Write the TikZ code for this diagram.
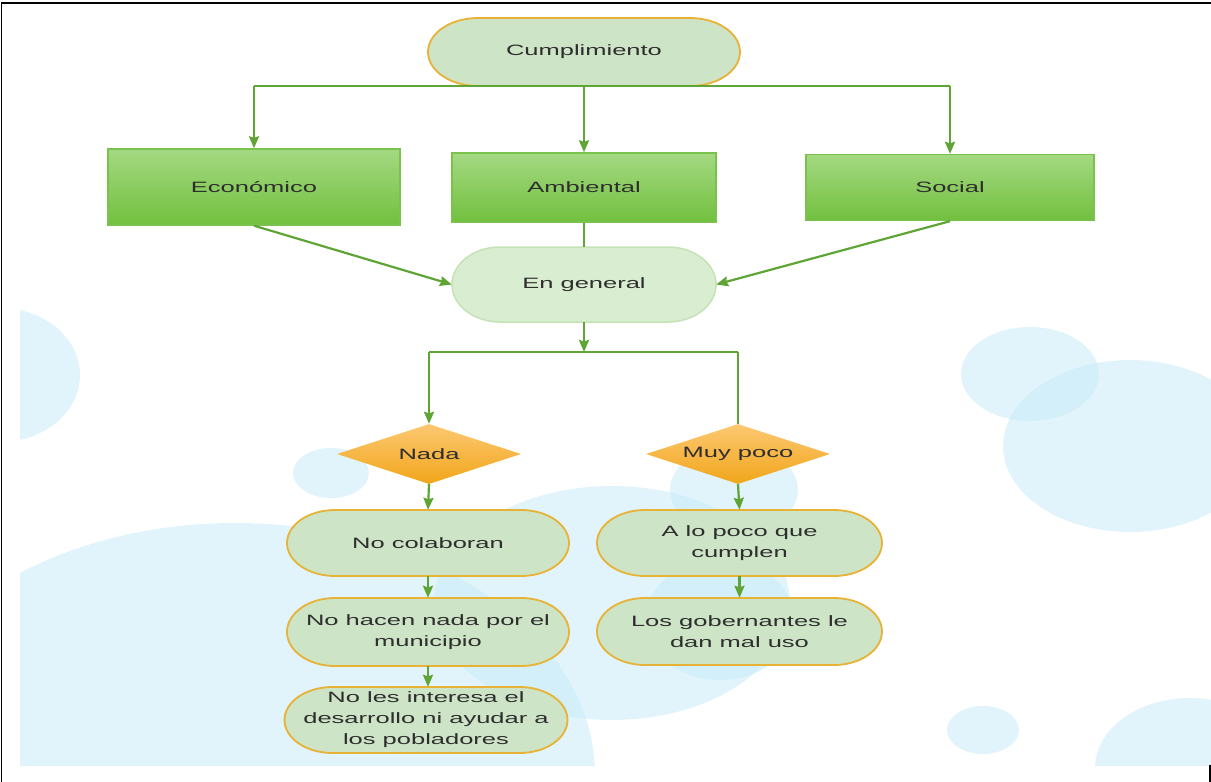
\documentclass[tikz,border=0pt]{standalone}
\usepackage{fontspec}
\setmainfont{Liberation Sans}[FakeStretch=1.7]
\usetikzlibrary{arrows.meta,shapes.geometric}
\definecolor{lnk}{HTML}{5FA535}
\definecolor{txtc}{HTML}{2E2E2E}
\definecolor{bub}{HTML}{C4EAF8}
\definecolor{gtop}{HTML}{A4D982}
\definecolor{gbot}{HTML}{72C03E}
\definecolor{gbord}{HTML}{79C24E}
\definecolor{otop}{HTML}{FDC873}
\definecolor{obot}{HTML}{F1A61A}
\definecolor{stfill}{HTML}{CDE5C6}
\definecolor{stbord}{HTML}{E7B235}
\definecolor{genfill}{HTML}{D9EDD0}
\definecolor{genbord}{HTML}{C4E3B4}
% stadium with elliptical ends: cx, cy, w, h, rx, style
\newcommand\stadpath[6]{%
  \path[#6] ({#1-#3/2+#5},{#2-#4/2}) -- ({#1+#3/2-#5},{#2-#4/2})
    arc[start angle=-90, end angle=90, x radius=#5, y radius=#4/2]
    -- ({#1-#3/2+#5},{#2+#4/2})
    arc[start angle=90, end angle=270, x radius=#5, y radius=#4/2] -- cycle;}
\begin{document}
\begin{tikzpicture}[x=1pt,y=-1pt,
  txt/.style={font=\fontsize{15}{21}\selectfont, text=txtc, align=center, inner sep=0pt},
  conn/.style={draw=lnk, line width=2.2pt},
  arr/.style={conn, -{Stealth[length=12pt,width=10pt,inset=1.5pt]}},
  bubble/.style={fill=bub, fill opacity=0.5},
  gbox/.style={txt, rectangle, draw=gbord, line width=1.4pt, top color=gtop, bottom color=gbot},
  dia/.style={txt, diamond, aspect=3.07, minimum width=184pt, minimum height=60pt, top color=otop, bottom color=obot},
  stadA/.style={fill=stfill, draw=stbord, line width=1.8pt},
  stadB/.style={fill=genfill, draw=genbord, line width=1.5pt},
  frame/.style={draw=black, line width=1.5pt}]
\useasboundingbox (0,0) rectangle (1211,782);
% background bubbles
\begin{scope}
  \clip (20,0) rectangle (1211,765);
  \fill[bubble] (0,375) ellipse [x radius=80, y radius=67];
  \fill[bubble] (235,775) ellipse [x radius=360, y radius=252];
  \fill[bubble] (612,603) ellipse [x radius=178, y radius=117];
  \fill[bubble] (331,473) ellipse [x radius=38, y radius=25];
  \fill[bubble] (734,490) ellipse [x radius=64, y radius=45];
  \fill[bubble] (720,620) ellipse [x radius=75, y radius=60];
  \fill[bubble] (1030,374) ellipse [x radius=69, y radius=47];
  \fill[bubble] (1130,446) ellipse [x radius=127, y radius=86];
  \fill[bubble] (983,730) ellipse [x radius=36, y radius=24];
  \fill[bubble] (1190,768) ellipse [x radius=95, y radius=70];
\end{scope}
% frame
\draw[frame] (1.5,782) -- (1.5,3) -- (1211,3);
\draw[frame] (1210,765) -- (1210,782);
% shapes
\stadpath{584}{52}{312}{68}{50}{stadA}
\node[txt, minimum width=312pt, minimum height=68pt] (cump) at (584,52) {Cumplimiento};
\node[gbox, minimum width=292pt, minimum height=76pt] (eco) at (254,187) {Económico};
\node[gbox, minimum width=264pt, minimum height=69pt] (amb) at (584,187.5) {Ambiental};
\node[gbox, minimum width=288pt, minimum height=66pt] (soc) at (950,187.5) {Social};
\stadpath{584}{284.5}{264}{75}{48}{stadB}
\node[txt, minimum width=264pt, minimum height=75pt] (gen) at (584,284.5) {En general};
\coordinate (split) at (584,352);
\node[dia] (nada) at (429,454) {Nada};
\node[dia] (muy) at (738,454) {Muy poco};
\stadpath{428}{543}{282}{66}{48}{stadA}
\node[txt, minimum width=282pt, minimum height=66pt] (c1) at (428,543) {No colaboran};
\stadpath{428}{632}{282}{68}{48}{stadA}
\node[txt, minimum width=282pt, minimum height=68pt] (c2) at (428,632) {No hacen nada por el\\municipio};
\stadpath{426}{720}{283}{66}{48}{stadA}
\node[txt, minimum width=283pt, minimum height=66pt] (c3) at (426,720) {No les interesa el\\desarrollo ni ayudar a\\los pobladores};
\stadpath{739.5}{543}{285}{66}{48}{stadA}
\node[txt, minimum width=285pt, minimum height=66pt] (d1) at (739.5,543) {A lo poco que\\cumplen};
\stadpath{739.5}{631.5}{285}{67}{48}{stadA}
\node[txt, minimum width=285pt, minimum height=67pt] (d2) at (739.5,631.5) {Los gobernantes le\\dan mal uso};
% connectors
\draw[conn] (eco.north |- cump.south) -- (soc.north |- cump.south);
\draw[arr] (eco.north |- cump.south) -- (eco.north);
\draw[arr] (cump.south) -- (amb.north);
\draw[arr] (soc.north |- cump.south) -- (soc.north);
\draw[arr] (eco.south) -- (gen.west);
\draw[conn] (amb.south) -- (gen.north);
\draw[arr] (soc.south) -- (gen.east);
\draw[arr] (gen.south) -- (split);
\draw[conn] (nada.north |- split) -- (muy.north |- split);
\draw[arr] (nada.north |- split) -- (nada.north);
\draw[conn] (muy.north |- split) -- (muy.north);
\draw[arr] (nada.south) -- (c1.north);
\draw[arr] (c1.south) -- (c2.north);
\draw[arr] (c2.south) -- (c2.south |- c3.north);
\draw[arr] (muy.south) -- (d1.north);
\draw[arr] (d1.south) -- (d2.north);
\end{tikzpicture}
\end{document}
